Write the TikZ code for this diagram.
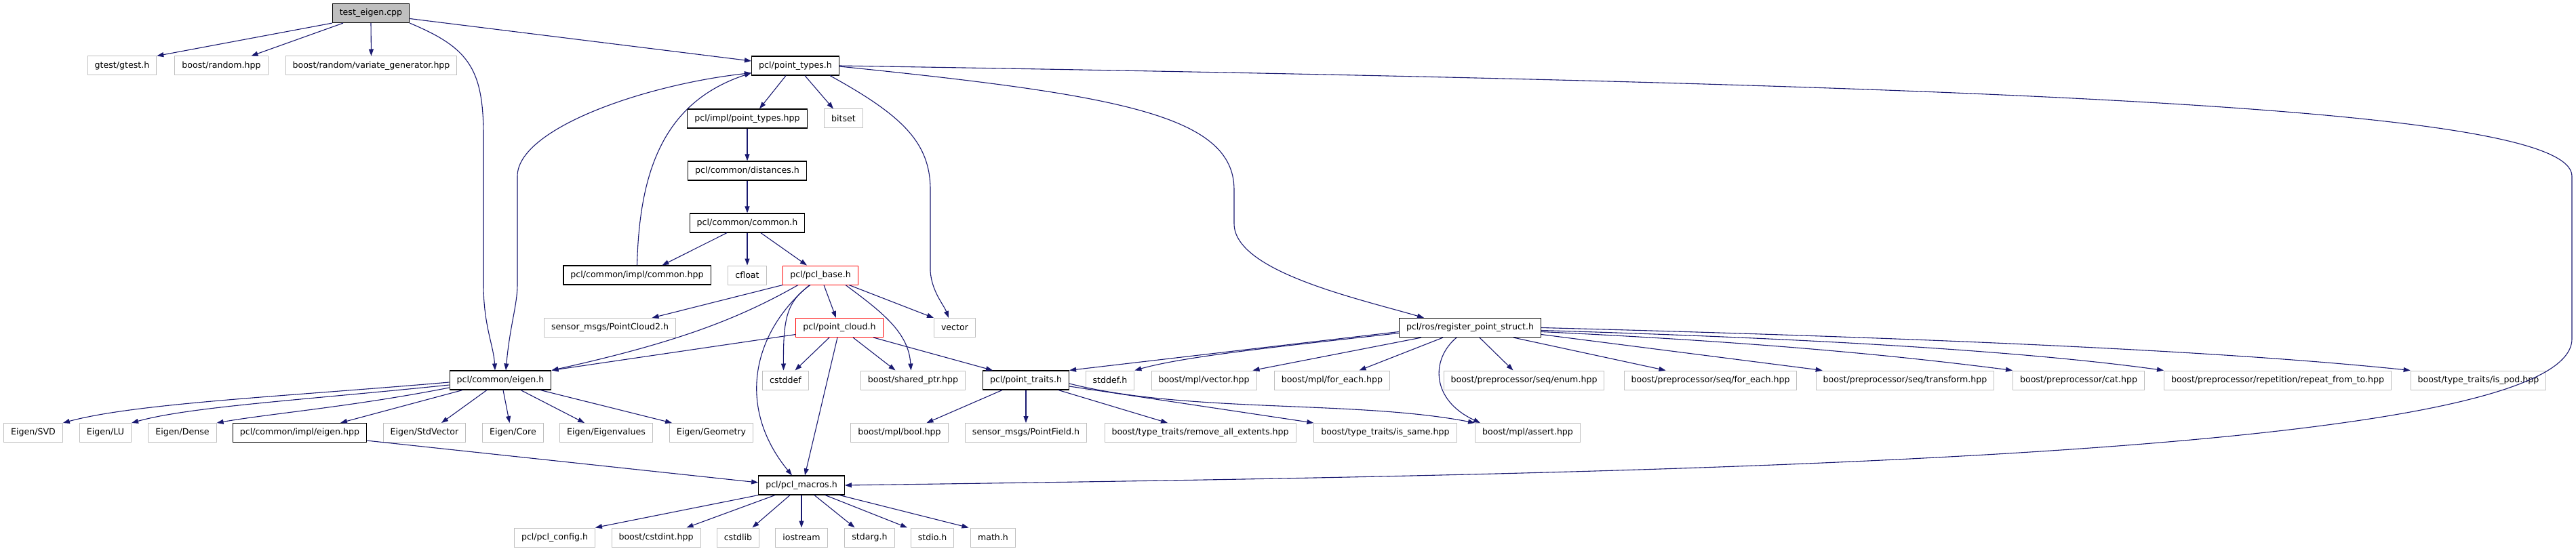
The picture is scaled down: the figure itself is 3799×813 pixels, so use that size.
\documentclass[tikz,border=0pt]{standalone}
\usepackage{fontspec}
\setmainfont{DejaVu Sans}
\usetikzlibrary{arrows.meta}
\definecolor{edgeblue}{HTML}{191970}
\definecolor{boxgray}{HTML}{BFBFBF}

\begin{document}
\begin{tikzpicture}[x=1pt,y=-1pt,>={Triangle[length=10pt,width=7pt]},
  file/.style={rectangle,inner xsep=10.5pt,inner ysep=0pt,minimum height=28pt,
    font=\fontsize{12.6}{14}\selectfont,line width=1pt},
  ext/.style={file,draw=boxgray},
  doc/.style={file,draw=black,line width=1.2pt},
  trunc/.style={file,draw=red},
  root/.style={doc,fill=boxgray},
  inc/.style={->,draw=edgeblue,line width=1.1pt}]
  \useasboundingbox (0,0) rectangle (3799,813);
  \def\ya{19.5} \def\yb{97} \def\yc{175} \def\yd{252} \def\ye{329} \def\yf{406}
  \def\yg{483.5} \def\yh{561} \def\yi{638.5} \def\yj{716} \def\yk{793}
  % rows of files, top to bottom
  \node[root] (te) at (547,\ya) {test\_eigen.cpp};
  \node[ext] (gtest) at (180,\yb) {gtest/gtest.h};
  \node[ext] (brand) at (326.5,\yb) {boost/random.hpp};
  \node[ext] (bvar) at (547.5,\yb) {boost/random/variate\_generator.hpp};
  \node[doc] (ptypes) at (1173,\yb) {pcl/point\_types.h};
  \node[doc] (iptypes) at (1102,\yc) {pcl/impl/point\_types.hpp};
  \node[ext] (bitset) at (1244,\yc) {bitset};
  \node[doc] (dist) at (1102,\yd) {pcl/common/distances.h};
  \node[doc] (common) at (1102,\ye) {pcl/common/common.h};
  \node[doc] (icommon) at (939.5,\yf) {pcl/common/impl/common.hpp};
  \node[ext] (cfloat) at (1102,\yf) {cfloat};
  \node[trunc] (base) at (1210,\yf) {pcl/pcl\_base.h};
  \node[ext] (pc2) at (899.5,\yg) {sensor\_msgs/PointCloud2.h};
  \node[trunc] (cloud) at (1238,\yg) {pcl/point\_cloud.h};
  \node[ext] (vector) at (1408,\yg) {vector};
  \node[doc] (regps) at (2168,\yg) {pcl/ros/register\_point\_struct.h};
  \node[doc] (eigen) at (738,\yh) {pcl/common/eigen.h};
  \node[ext] (cstddef) at (1158.5,\yh) {cstddef};
  \node[ext] (sptr) at (1346.5,\yh) {boost/shared\_ptr.hpp};
  \node[doc] (traits) at (1513,\yh) {pcl/point\_traits.h};
  \node[ext] (stddef) at (1637,\yh) {stddef.h};
  \node[ext] (mplvec) at (1775.5,\yh) {boost/mpl/vector.hpp};
  \node[ext] (mplfe) at (1964.5,\yh) {boost/mpl/for\_each.hpp};
  \node[ext] (seqenum) at (2247.5,\yh) {boost/preprocessor/seq/enum.hpp};
  \node[ext] (seqfe) at (2522.5,\yh) {boost/preprocessor/seq/for\_each.hpp};
  \node[ext] (seqtr) at (2809.5,\yh) {boost/preprocessor/seq/transform.hpp};
  \node[ext] (ppcat) at (3065.5,\yh) {boost/preprocessor/cat.hpp};
  \node[ext] (rft) at (3359,\yh) {boost/preprocessor/repetition/repeat\_from\_to.hpp};
  \node[ext] (ispod) at (3655,\yh) {boost/type\_traits/is\_pod.hpp};
  \node[ext] (svd) at (49,\yi) {Eigen/SVD};
  \node[ext] (lu) at (155.5,\yi) {Eigen/LU};
  \node[ext] (dense) at (269,\yi) {Eigen/Dense};
  \node[doc] (ieigen) at (442,\yi) {pcl/common/impl/eigen.hpp};
  \node[ext] (stdvec) at (626,\yi) {Eigen/StdVector};
  \node[ext] (core) at (756.5,\yi) {Eigen/Core};
  \node[ext] (evals) at (894,\yi) {Eigen/Eigenvalues};
  \node[ext] (geom) at (1049,\yi) {Eigen/Geometry};
  \node[ext] (mplbool) at (1326.5,\yi) {boost/mpl/bool.hpp};
  \node[ext] (pfield) at (1513,\yi) {sensor\_msgs/PointField.h};
  \node[ext] (rae) at (1770,\yi) {boost/type\_traits/remove\_all\_extents.hpp};
  \node[ext] (issame) at (2043,\yi) {boost/type\_traits/is\_same.hpp};
  \node[ext] (assert) at (2253,\yi) {boost/mpl/assert.hpp};
  \node[doc] (macros) at (1182,\yj) {pcl/pcl\_macros.h};
  \node[ext] (config) at (818,\yk) {pcl/pcl\_config.h};
  \node[ext] (cstdint) at (967.5,\yk) {boost/cstdint.hpp};
  \node[ext] (cstdlib) at (1088.5,\yk) {cstdlib};
  \node[ext] (iostream) at (1182,\yk) {iostream};
  \node[ext] (stdarg) at (1282.5,\yk) {stdarg.h};
  \node[ext] (stdio) at (1375,\yk) {stdio.h};
  \node[ext] (math) at (1464.5,\yk) {math.h};

  % test_eigen.cpp
  \draw[inc] (te.south west) -- (gtest.north east);
  \draw[inc] ([xshift=-41pt]te.south) -- ([xshift=44pt]brand.north);
  \draw[inc] (te.south) -- (bvar.north);
  \draw[inc] ([yshift=-8pt]te.east) -- ([yshift=7pt]ptypes.west);
  \draw[inc] (te.south east) .. controls (690,70) and (713,100) .. (713,200) -- (713,420)
    .. controls (713,480) and (728,510) .. ([xshift=-8pt]eigen.north);
  % pcl/point_types.h
  \draw[inc] ([xshift=-14pt]ptypes.south) -- ([xshift=18pt]iptypes.north);
  \draw[inc] ([xshift=14pt]ptypes.south) -- ([xshift=-15pt]bitset.north);
  \draw[inc] ([xshift=-14pt]ptypes.south east) .. controls (1330,170) and (1372,210) .. (1372,280)
    -- (1372,400) .. controls (1374,430) and (1392,450) .. ([xshift=-9pt]vector.north);
  \draw[inc] ([yshift=-1pt]ptypes.east) .. controls (1650,140) and (1820,170) .. (1820,280) -- (1820,330)
    .. controls (1820,400) and (2000,440) .. ([xshift=-68pt]regps.north);
  \draw[inc] (ptypes.east) .. controls (3000,125) and (3793,160) .. (3793,260) -- (3793,500)
    .. controls (3793,680) and (2400,700) .. (macros.east);
  \draw[inc,<->] ([xshift=8pt]eigen.north) .. controls (752,480) and (763,450) .. (763,420) -- (763,260)
    .. controls (763,190) and (950,125) .. ([yshift=4pt]ptypes.south west);
  \draw[inc] (icommon.north) .. controls (943,250) and (980,150) .. ([yshift=4pt]ptypes.south west);
  \draw[inc] (iptypes.south) -- (dist.north);
  \draw[inc] (dist.south) -- (common.north);
  % pcl/common/common.h
  \draw[inc] ([xshift=-30pt]common.south) -- ([xshift=37pt]icommon.north);
  \draw[inc] (common.south) -- (cfloat.north);
  \draw[inc] ([xshift=20pt]common.south) -- ([xshift=-20pt]base.north);
  % pcl/pcl_base.h
  \draw[inc] (base.south west) -- ([xshift=62pt]pc2.north);
  \draw[inc] ([xshift=-33pt]base.south) .. controls (1090,470) and (1000,505) .. (eigen.north east);
  \draw[inc] ([xshift=-16pt]base.south) .. controls (1110,490) and (1085,600) .. ([xshift=-14pt]macros.north);
  \draw[inc] ([xshift=-15pt]base.south) .. controls (1160,445) and (1155,470) .. ([xshift=-3pt]cstddef.north);
  \draw[inc] ([xshift=5pt]base.south) -- ([xshift=-5pt]cloud.north);
  \draw[inc] ([xshift=37pt]base.south) .. controls (1300,460) and (1340,490) .. ([xshift=-3pt]sptr.north);
  \draw[inc] ([xshift=42pt]base.south) -- (vector.north west);
  % pcl/point_cloud.h
  \draw[inc] ([yshift=-10pt]cloud.west) -- (eigen.north east);
  \draw[inc] ([xshift=-15pt]cloud.south) -- ([xshift=14pt]cstddef.north);
  \draw[inc] ([xshift=-3pt]cloud.south) -- ([xshift=5pt]macros.north);
  \draw[inc] ([xshift=20pt]cloud.south) -- ([xshift=-26pt]sptr.north);
  \draw[inc] ([xshift=50pt]cloud.south) -- ([xshift=-49pt]traits.north);
  % pcl/point_traits.h
  \draw[inc] ([xshift=-35pt]traits.south) -- ([xshift=40pt]mplbool.north);
  \draw[inc] (traits.south) -- (pfield.north);
  \draw[inc] ([xshift=48pt]traits.south) -- ([xshift=-48pt]rae.north);
  \draw[inc] ([yshift=-9pt]traits.east) -- (issame.north west);
  \draw[inc] ([yshift=-5pt]traits.east) .. controls (1750,610) and (2000,590) .. (assert.north west);
  % pcl/ros/register_point_struct.h
  \draw[inc] ([yshift=-6pt]regps.west) -- (traits.north east);
  \draw[inc] ([yshift=-8pt]regps.west) .. controls (1900,510) and (1750,525) .. (stddef.north east);
  \draw[inc] ([xshift=-72pt]regps.south) -- ([xshift=72pt]mplvec.north);
  \draw[inc] ([xshift=-40pt]regps.south) -- ([xshift=40pt]mplfe.north);
  \draw[inc] ([xshift=-20pt]regps.south) .. controls (2110,530) and (2110,590) .. ([xshift=-70pt]assert.north);
  \draw[inc] ([xshift=14pt]regps.south) -- ([xshift=-16pt]seqenum.north);
  \draw[inc] ([xshift=64pt]regps.south) -- ([xshift=-66pt]seqfe.north);
  \draw[inc] ([yshift=-10pt]regps.east) -- ([xshift=10pt]seqtr.north west);
  \draw[inc] ([yshift=-6pt]regps.east) .. controls (2600,505) and (2800,525) .. (ppcat.north west);
  \draw[inc] ([yshift=-4pt]regps.east) .. controls (2700,500) and (3000,520) .. (rft.north west);
  \draw[inc] (regps.east) .. controls (2900,500) and (3300,520) .. (ispod.north west);
  % pcl/common/eigen.h
  \draw[inc] ([yshift=-3pt]eigen.west) .. controls (420,585) and (200,595) .. (svd.north east);
  \draw[inc] ([yshift=-7pt]eigen.west) .. controls (450,590) and (280,600) .. (lu.north east);
  \draw[inc] ([yshift=-11pt]eigen.west) .. controls (520,600) and (400,610) .. (dense.north east);
  \draw[inc] ([xshift=-56pt]eigen.south) -- ([xshift=60pt]ieigen.north);
  \draw[inc] ([xshift=-20pt]eigen.south) -- ([xshift=25pt]stdvec.north);
  \draw[inc] ([xshift=4pt]eigen.south) -- ([xshift=-5pt]core.north);
  \draw[inc] ([xshift=30pt]eigen.south) -- ([xshift=-32pt]evals.north);
  \draw[inc] ([xshift=59pt]eigen.south) -- ([xshift=-58pt]geom.north);
  \draw[inc] ([yshift=3pt]ieigen.south east) -- ([yshift=4pt]macros.west);
  % pcl/pcl_macros.h
  \draw[inc] (macros.south west) -- (config.north east);
  \draw[inc] ([xshift=-39pt]macros.south) -- ([xshift=45pt]cstdint.north);
  \draw[inc] ([xshift=-17pt]macros.south) -- ([xshift=21pt]cstdlib.north);
  \draw[inc] (macros.south) -- (iostream.north);
  \draw[inc] ([xshift=19pt]macros.south) -- ([xshift=-22pt]stdarg.north);
  \draw[inc] ([xshift=35pt]macros.south) -- ([xshift=-37pt]stdio.north);
  \draw[inc] ([xshift=56pt]macros.south) -- ([xshift=-36pt]math.north);
\end{tikzpicture}
\end{document}
